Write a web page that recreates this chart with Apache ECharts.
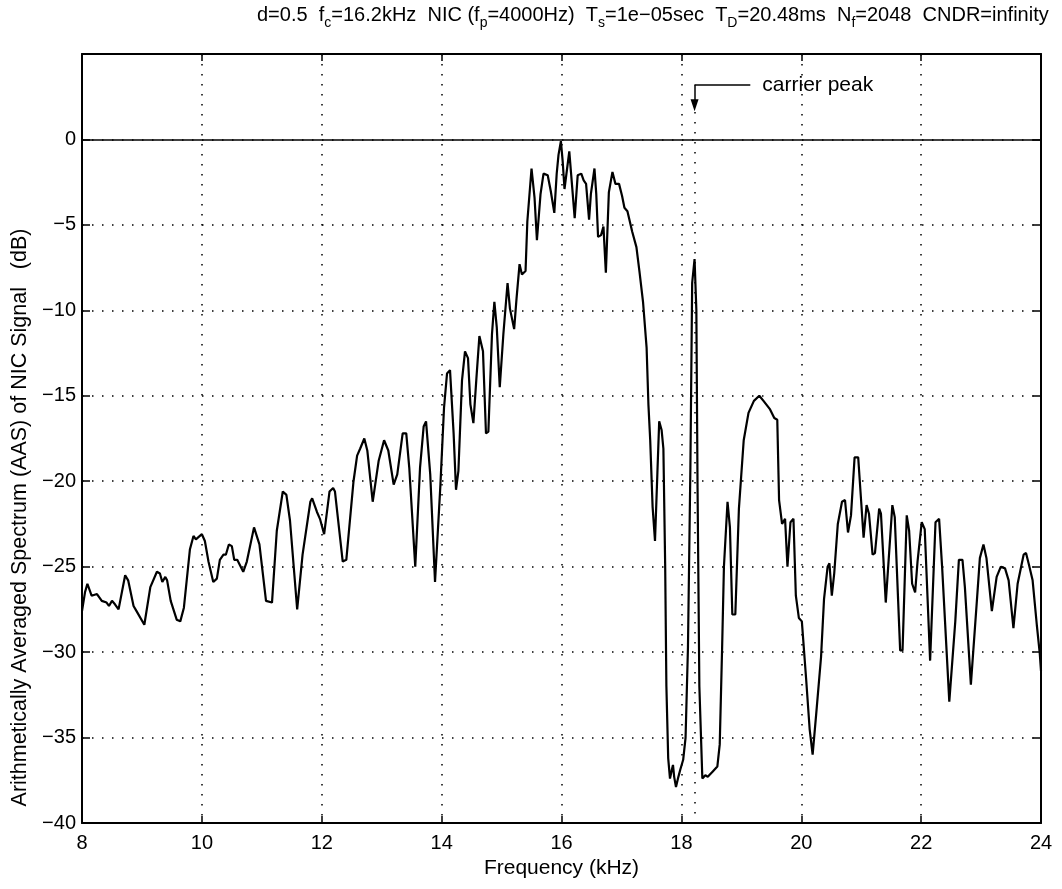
<!DOCTYPE html>
<html><head><meta charset="utf-8">
<script src="https://cdn.jsdelivr.net/npm/echarts@6/dist/echarts.min.js"></script>
<style>html,body{margin:0;padding:0;background:#fff}#c{width:1062px;height:889px}</style>
</head><body><div id="c"></div>
<script>
// Frequency (kHz) and Arithmetically Averaged Spectrum (dB)
const freqKHz = [
 8.00,8.05,8.09,8.16,8.25,8.33,8.41,8.45,8.50,8.55,8.61,8.72,8.77,8.86,8.91,9.04,9.14,9.25,9.30,9.34,
 9.39,9.42,9.48,9.58,9.64,9.70,9.80,9.86,9.90,10.00,10.05,10.11,10.19,10.25,10.30,10.36,10.40,10.45,10.50,10.54,
 10.59,10.69,10.75,10.87,10.96,11.07,11.17,11.25,11.35,11.41,11.47,11.59,11.68,11.81,11.84,11.92,11.97,12.04,12.13,12.19,
 12.22,12.35,12.41,12.53,12.59,12.64,12.71,12.76,12.85,12.95,13.04,13.11,13.20,13.26,13.35,13.41,13.46,13.56,13.64,13.70,
 13.74,13.81,13.89,13.98,14.04,14.09,14.14,14.20,14.24,14.28,14.34,14.39,14.44,14.48,14.53,14.58,14.63,14.69,14.74,14.78,
 14.84,14.88,14.92,14.97,15.03,15.10,15.14,15.21,15.25,15.30,15.34,15.40,15.43,15.50,15.55,15.59,15.65,15.70,15.77,15.82,
 15.88,15.92,15.95,15.99,16.02,16.05,16.08,16.13,16.16,16.22,16.27,16.33,16.37,16.41,16.46,16.49,16.55,16.58,16.61,16.66,
 16.70,16.74,16.79,16.85,16.90,16.96,17.01,17.05,17.10,17.18,17.25,17.30,17.36,17.42,17.45,17.48,17.52,17.56,17.60,17.63,
 17.67,17.70,17.73,17.75,17.78,17.81,17.84,17.86,17.88,17.91,17.95,17.98,18.03,18.07,18.11,18.15,18.18,18.22,18.25,18.27,
 18.30,18.35,18.40,18.44,18.47,18.52,18.60,18.64,18.68,18.71,18.77,18.81,18.85,18.90,18.96,19.04,19.12,19.21,19.30,19.37,
 19.48,19.55,19.60,19.63,19.68,19.73,19.77,19.82,19.87,19.91,19.96,20.01,20.08,20.14,20.19,20.25,20.33,20.38,20.44,20.47,
 20.51,20.55,20.61,20.68,20.73,20.78,20.83,20.89,20.95,21.00,21.04,21.09,21.13,21.19,21.23,21.30,21.33,21.41,21.52,21.56,
 21.65,21.69,21.76,21.80,21.85,21.90,21.94,22.01,22.06,22.15,22.24,22.30,22.35,22.47,22.57,22.63,22.69,22.73,22.83,22.93,
 22.98,23.04,23.09,23.18,23.26,23.33,23.40,23.46,23.54,23.61,23.71,23.75,23.80,23.86,23.93,23.98,24.00
];
const aasDb = [
 -27.6,-26.5,-26.0,-26.7,-26.6,-27.0,-27.1,-27.3,-27.0,-27.2,-27.5,-25.5,-25.8,-27.3,-27.6,-28.4,-26.2,-25.3,-25.4,-25.9,
 -25.6,-25.8,-27.0,-28.1,-28.2,-27.4,-24.0,-23.2,-23.4,-23.1,-23.5,-24.7,-25.9,-25.7,-24.6,-24.3,-24.3,-23.7,-23.8,-24.6,
 -24.6,-25.3,-24.7,-22.7,-23.7,-27.0,-27.1,-22.9,-20.6,-20.8,-22.3,-27.5,-24.3,-21.2,-21.0,-21.8,-22.2,-23.1,-20.6,-20.4,
 -20.6,-24.7,-24.6,-20.0,-18.5,-18.1,-17.5,-18.2,-21.2,-18.8,-17.6,-18.2,-20.2,-19.6,-17.2,-17.2,-19.2,-25.0,-19.2,-16.8,
 -16.5,-19.6,-25.9,-20.2,-15.7,-13.7,-13.5,-17.2,-20.5,-19.4,-14.1,-12.4,-12.8,-15.5,-16.6,-14.0,-11.5,-12.4,-17.2,-17.1,
 -11.4,-9.5,-11.0,-14.5,-11.4,-8.4,-9.9,-11.1,-9.3,-7.3,-7.9,-7.7,-4.8,-1.7,-3.4,-5.9,-3.2,-2.0,-2.1,-3.0,
 -4.3,-2.0,-0.9,-0.1,-1.3,-2.9,-3.0,-0.7,-2.0,-4.6,-2.1,-2.0,-2.4,-2.6,-4.7,-3.2,-1.7,-3.2,-5.7,-5.6,
 -5.1,-7.8,-3.1,-1.9,-2.6,-2.6,-3.3,-4.0,-4.2,-5.4,-6.3,-7.7,-9.5,-12.2,-15.5,-17.6,-21.5,-23.5,-19.5,-16.5,
 -17.0,-18.1,-25.0,-32.0,-36.2,-37.4,-36.9,-36.6,-37.3,-37.9,-37.3,-36.9,-36.3,-35.0,-29.7,-19.3,-8.4,-7.0,-10.0,-20.4,
 -32.0,-37.4,-37.2,-37.3,-37.4,-37.0,-36.7,-35.4,-29.7,-25.0,-21.2,-22.7,-27.8,-27.8,-21.6,-17.6,-16.0,-15.3,-15.0,-15.3,
 -15.8,-16.3,-16.4,-21.1,-22.5,-22.2,-25.0,-22.4,-22.2,-26.7,-28.0,-28.2,-31.5,-34.5,-36.0,-33.6,-30.3,-26.9,-25.0,-24.8,
 -26.7,-25.4,-22.5,-21.2,-21.1,-23.0,-22.0,-18.6,-18.6,-21.2,-23.3,-21.4,-21.9,-24.3,-24.2,-21.6,-21.9,-27.1,-21.4,-22.1,
 -29.9,-29.9,-22.0,-22.9,-26.0,-26.5,-24.7,-22.4,-22.8,-30.5,-22.4,-22.2,-25.0,-32.9,-28.2,-24.6,-24.6,-26.2,-31.9,-27.0,
 -24.5,-23.7,-24.5,-27.6,-25.6,-25.0,-25.1,-25.8,-28.6,-26.0,-24.3,-24.2,-24.9,-25.8,-28.4,-30.1,-31.1
];
// carrier peak annotation (data coordinates)
const carrierKHz = 18.22;
const carrierText = 'carrier peak';
const arrowLevelDb = 3.2;
const arrowTipDb = 2.0;
const arrowRightKHz = 19.15;
const dottedTopDb = 1.6;

const FONT = '"Liberation Sans", Arial, Helvetica, sans-serif';
const chart = echarts.init(document.getElementById('c'), null, {renderer: 'canvas'});
const dotted = {color: '#000', width: 1.5, type: [1.5, 8.5]};
const minusFmt = v => String(v).replace('-', '\u2212');

chart.setOption({
  animation: false,
  backgroundColor: '#fff',
  textStyle: {fontFamily: FONT, color: '#000'},
  title: {
    left: 257, top: 5, padding: 0,
    text: '{n|d=0.5  f}{s|c}{n|=16.2kHz  NIC (f}{s|p}{n|=4000Hz)  T}{s|s}{n|=1e\u221205sec  T}{s|D}{n|=20.48ms  N}{s|f}{n|=2048  CNDR=infinity}',
    textStyle: {
      fontWeight: 'normal',
      rich: {
        n: {fontFamily: FONT, fontSize: 20, fontWeight: 'normal', lineHeight: 22, color: '#000', verticalAlign: 'top'},
        s: {fontFamily: FONT, fontSize: 14, fontWeight: 'normal', lineHeight: 14, color: '#000', padding: [11, 0, 0, 0], verticalAlign: 'top'}
      }
    }
  },
  grid: {left: 82, right: 21, top: 54, bottom: 66},
  xAxis: [{
    type: 'value', min: 8, max: 24, interval: 2, position: 'bottom',
    name: 'Frequency (kHz)', nameLocation: 'middle', nameGap: 35,
    nameTextStyle: {fontSize: 21, color: '#000', fontFamily: FONT},
    axisLine: {show: true, onZero: false, lineStyle: {color: '#000', width: 2}},
    axisTick: {show: true, inside: true, length: 7, lineStyle: {color: '#000', width: 1.5}},
    axisLabel: {fontSize: 20, color: '#000', margin: 10, fontFamily: FONT},
    splitLine: {show: true, lineStyle: dotted}
  }, {
    type: 'value', min: 8, max: 24, interval: 2, position: 'top',
    axisLine: {show: true, onZero: false, lineStyle: {color: '#000', width: 2}},
    axisTick: {show: true, inside: true, length: 7, lineStyle: {color: '#000', width: 1.5}},
    axisLabel: {show: false}, splitLine: {show: false}
  }],
  yAxis: [{
    type: 'value', min: -40, max: 5, interval: 5, position: 'left',
    name: 'Arithmetically Averaged Spectrum (AAS) of NIC Signal   (dB)',
    nameLocation: 'middle', nameGap: 45, nameRotate: 90,
    nameTextStyle: {fontSize: 21.5, color: '#000', fontFamily: FONT, padding: [0, 158, 0, 0]},
    axisLine: {show: true, onZero: false, lineStyle: {color: '#000', width: 2}},
    axisTick: {show: true, inside: true, length: 8, lineStyle: {color: '#000', width: 1.5}},
    axisLabel: {fontSize: 20, color: '#000', margin: 6, fontFamily: FONT,
      formatter: v => v === 5 ? '' : minusFmt(v)},
    splitLine: {show: true, lineStyle: dotted}
  }, {
    type: 'value', min: -40, max: 5, interval: 5, position: 'right',
    axisLine: {show: true, onZero: false, lineStyle: {color: '#000', width: 2}},
    axisTick: {show: true, inside: true, length: 8, lineStyle: {color: '#000', width: 1.5}},
    axisLabel: {show: false}, splitLine: {show: false}
  }],
  series: [{
    type: 'line', xAxisIndex: 0, yAxisIndex: 0,
    data: freqKHz.map((f, i) => [f, aasDb[i]]),
    showSymbol: false, symbol: 'none',
    lineStyle: {color: '#000', width: 2.2},
    z: 5,
    markLine: {
      silent: true, animation: false, symbol: ['none', 'none'],
      label: {show: false},
      data: [
        [{coord: [8, 0], lineStyle: {color: '#000', width: 1.5, type: 'solid'}}, {coord: [24, 0]}],
        [{coord: [carrierKHz, dottedTopDb], lineStyle: {color: '#000', width: 1.5, type: [1.5, 8.5]}}, {coord: [carrierKHz, -40]}],
        [{coord: [carrierKHz, arrowLevelDb], lineStyle: {color: '#000', width: 1.5, type: 'solid'}},
         {coord: [arrowRightKHz, arrowLevelDb],
          label: {show: true, position: 'end', distance: 12, formatter: carrierText, fontSize: 21, color: '#000', fontFamily: FONT}}],
        [{coord: [carrierKHz, arrowLevelDb], symbol: 'none', lineStyle: {color: '#000', width: 1.5, type: 'solid'}},
         {coord: [carrierKHz, arrowTipDb], symbol: 'triangle', symbolSize: [8, 12], symbolRotate: 180}]
      ]
    }
  }]
});
</script>
</body></html>
